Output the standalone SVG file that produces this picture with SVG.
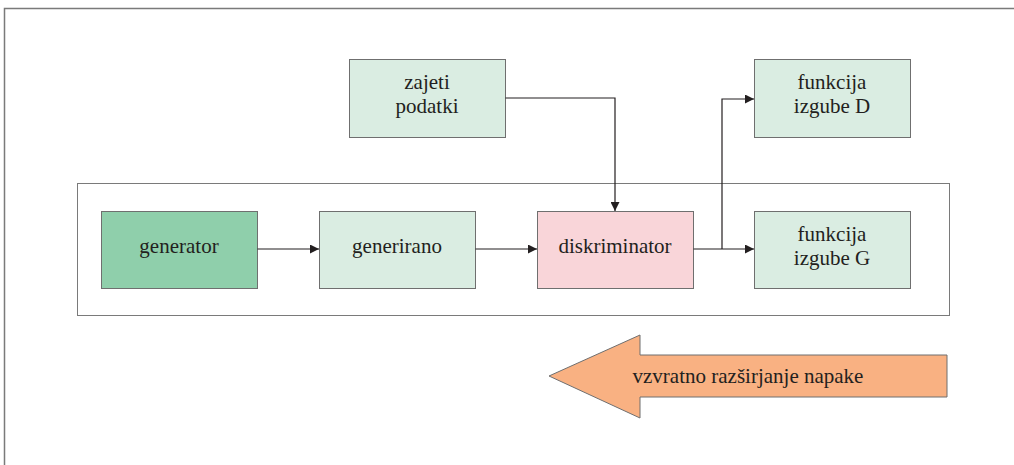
<svg xmlns="http://www.w3.org/2000/svg" width="1014" height="465" viewBox="0 0 1014 465">
<style>
.box{stroke:#6f6f6f;stroke-width:1}
.lg{fill:#daede2}
.t{font-family:'Liberation Serif','DejaVu Serif',serif;font-size:21px;fill:#231f20;text-anchor:middle}
.c{fill:none;stroke:#231f20;stroke-width:1.2}
</style>
<defs>
<marker id="ah" viewBox="0 0 10 10" refX="10" refY="5" markerWidth="9" markerHeight="9" markerUnits="userSpaceOnUse" orient="auto">
<path d="M0,0 L10,5 L0,10 z" fill="#231f20"/>
</marker>
</defs>
<rect width="1014" height="465" fill="#fff"/>
<path d="M4.5,470 V8.5 H1020" fill="none" stroke="#7a7a7a" stroke-width="1.5"/>
<rect id="group" x="77.5" y="183.5" width="872" height="132" fill="none" stroke="#7a7a7a" stroke-width="1"/>
<g id="zajeti">
<rect class="box lg" x="349.5" y="59.5" width="156" height="78"/>
<text class="t" x="427" y="89">zajeti</text>
<text class="t" x="427" y="113">podatki</text>
</g>
<g id="izgubeD">
<rect class="box lg" x="754.5" y="59.5" width="156" height="78"/>
<text class="t" x="832" y="89">funkcija</text>
<text class="t" x="832" y="113">izgube D</text>
</g>
<g id="generator">
<rect class="box" fill="#8fcfab" x="101.5" y="211.5" width="156" height="77"/>
<text class="t" x="179" y="253">generator</text>
</g>
<g id="generirano">
<rect class="box lg" x="319.5" y="211.5" width="156" height="77"/>
<text class="t" x="397" y="253">generirano</text>
</g>
<g id="diskriminator">
<rect class="box" fill="#f9d5d9" x="537.5" y="211.5" width="156" height="77"/>
<text class="t" x="615" y="253">diskriminator</text>
</g>
<g id="izgubeG">
<rect class="box lg" x="754.5" y="211.5" width="156" height="77"/>
<text class="t" x="832" y="241">funkcija</text>
<text class="t" x="832" y="265">izgube G</text>
</g>
<g id="connectors">
<path class="c" d="M257.5,249 H319" marker-end="url(#ah)"/>
<path class="c" d="M475.5,249 H537" marker-end="url(#ah)"/>
<path class="c" d="M693.5,249 H754" marker-end="url(#ah)"/>
<path class="c" d="M722,249 V99 H754" marker-end="url(#ah)"/>
<path class="c" d="M505.5,98 H615 V211" marker-end="url(#ah)"/>
</g>
<g id="backprop">
<path d="M549,376 L640,335 V355 H947 V397 H640 V418 Z" fill="#f9b182" stroke="#6f6f6f" stroke-width="1"/>
<text class="t" x="748" y="383">vzvratno razširjanje napake</text>
</g>
</svg>
